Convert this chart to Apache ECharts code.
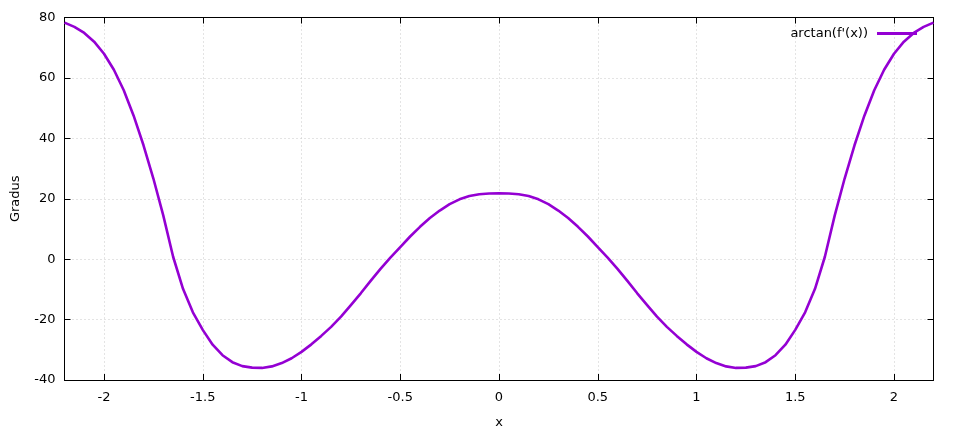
<!DOCTYPE html>
<html>
<head>
<meta charset="utf-8">
<script src="https://cdn.jsdelivr.net/npm/echarts@6/dist/echarts.min.js"></script>
<style>html,body{margin:0;padding:0;background:#fff;}#c{width:960px;height:435px;}</style>
</head>
<body>
<div id="c"></div>
<script>
const seriesName = "arctan(f'(x))";
const xValues = [-2.2,-2.15,-2.1,-2.05,-2,-1.95,-1.9,-1.85,-1.8,-1.75,-1.7,-1.65,-1.6,-1.55,-1.5,-1.45,-1.4,-1.35,-1.3,-1.25,-1.2,-1.15,-1.1,-1.05,-1,-0.95,-0.9,-0.85,-0.8,-0.75,-0.7,-0.65,-0.6,-0.55,-0.5,-0.45,-0.4,-0.35,-0.3,-0.25,-0.2,-0.15,-0.1,-0.05,0,
  0.05,0.1,0.15,0.2,0.25,0.3,0.35,0.4,0.45,0.5,0.55,0.6,0.65,0.7,0.75,0.8,0.85,0.9,0.95,1,1.05,1.1,1.15,1.2,1.25,1.3,1.35,1.4,1.45,1.5,1.55,1.6,1.65,1.7,1.75,1.8,1.85,1.9,1.95,2,2.05,2.1,2.15,2.2];
const yValues = [78.3,76.9,74.9,72.0,68.0,62.7,55.9,47.5,37.7,26.7,14.5,0.8,-9.8,-17.6,-23.4,-28.3,-31.8,-34.1,-35.4,-35.9,-36.0,-35.5,-34.4,-32.8,-30.7,-28.2,-25.4,-22.4,-19.0,-15.2,-11.3,-7.2,-3.2,0.5,4.0,7.5,10.7,13.6,16.1,18.2,19.8,20.9,21.5,21.75,21.8,
  21.75,21.5,20.9,19.8,18.2,16.1,13.6,10.7,7.5,4.0,0.5,-3.2,-7.2,-11.3,-15.2,-19.0,-22.4,-25.4,-28.2,-30.7,-32.8,-34.4,-35.5,-36.0,-35.9,-35.4,-34.1,-31.8,-28.3,-23.4,-17.6,-9.8,0.8,14.5,26.7,37.7,47.5,55.9,62.7,68.0,72.0,74.9,76.9,78.3];
const xTicks = [-2,-1.5,-1,-0.5,0,0.5,1,1.5,2];
const xRange = [-2.2, 2.2];
const yRange = [-40, 80];
const yStep = 20;

const font = 'DejaVu Sans';
const lineColor = '#9400D3';
const gridLine = {show: true, lineStyle: {color: '#c8c8c8', type: [1, 3], width: 1}};
const axisLine = {show: true, onZero: false, lineStyle: {color: '#000', width: 1}};

const chart = echarts.init(document.getElementById('c'), null, {renderer: 'canvas'});
chart.setOption({
  animation: false,
  backgroundColor: '#fff',
  textStyle: {fontFamily: font},
  grid: {left: 64.5, right: 26.5, top: 17.5, bottom: 55},
  legend: {
    show: true, right: 38, top: 22, align: 'right', icon: 'rect',
    itemWidth: 40, itemHeight: 3,
    textStyle: {fontFamily: font, fontSize: 13, color: '#000', padding: [0, 4, 0, 0]},
    data: [seriesName]
  },
  xAxis: [{
    type: 'value', min: xRange[0], max: xRange[1], position: 'bottom',
    name: 'x', nameLocation: 'middle', nameGap: 36,
    nameTextStyle: {fontFamily: font, fontSize: 13, color: '#000'},
    axisLine: axisLine,
    axisTick: {show: true, inside: true, length: 6, customValues: xTicks, lineStyle: {color: '#000'}},
    axisLabel: {show: true, customValues: xTicks, margin: 11, fontFamily: font, fontSize: 13, color: '#000'},
    splitLine: gridLine
  }, {
    type: 'value', min: xRange[0], max: xRange[1], position: 'top',
    axisLine: axisLine,
    axisTick: {show: true, inside: true, length: 6, customValues: xTicks, lineStyle: {color: '#000'}},
    axisLabel: {show: false, customValues: xTicks},
    splitLine: {show: false}
  }],
  yAxis: [{
    type: 'value', min: yRange[0], max: yRange[1], interval: yStep, position: 'left',
    name: 'Gradus', nameLocation: 'middle', nameGap: 42, nameRotate: 90,
    nameTextStyle: {fontFamily: font, fontSize: 13, color: '#000'},
    axisLine: axisLine,
    axisTick: {show: true, inside: true, length: 6, lineStyle: {color: '#000'}},
    axisLabel: {show: true, margin: 9, fontFamily: font, fontSize: 13, color: '#000'},
    splitLine: gridLine
  }, {
    type: 'value', min: yRange[0], max: yRange[1], interval: yStep, position: 'right',
    axisLine: axisLine,
    axisTick: {show: true, inside: true, length: 6, lineStyle: {color: '#000'}},
    axisLabel: {show: false},
    splitLine: {show: false}
  }],
  series: [{
    name: seriesName, type: 'line', xAxisIndex: 0, yAxisIndex: 0,
    data: xValues.map((x, i) => [x, yValues[i]]),
    showSymbol: false, smooth: false, clip: true,
    lineStyle: {color: lineColor, width: 2.6, join: 'round'},
    itemStyle: {color: lineColor}
  }]
});
</script>
</body>
</html>
